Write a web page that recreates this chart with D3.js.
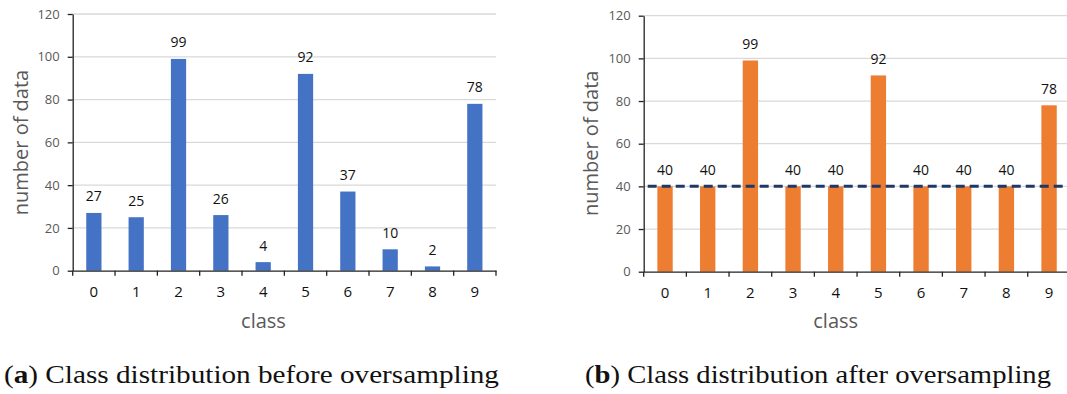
<!DOCTYPE html>
<html>
<head>
<meta charset="utf-8">
<script src="https://cdn.jsdelivr.net/npm/d3@7"></script>
<style>
  body { margin: 0; background: #fff; }
  svg { display: block; }
  .tick text { font-family: "Open Sans", sans-serif; }
</style>
</head>
<body>
<div id="chart"></div>
<script>
// data
const classes = ["0", "1", "2", "3", "4", "5", "6", "7", "8", "9"];
const countsBefore = [27, 25, 99, 26, 4, 92, 37, 10, 2, 78];
const countsAfter = [40, 40, 99, 40, 40, 92, 40, 40, 40, 78];
const yTicks = [0, 20, 40, 60, 80, 100, 120];
const threshold = 40;
const captionA = ["a", ") Class distribution before oversampling"];
const captionB = ["b", ") Class distribution after oversampling"];

const W = 1067, H = 394;

const svg = d3.select("#chart").append("svg")
    .attr("width", W)
    .attr("height", H);

// one panel = one bar chart
function drawPanel(cfg) {
    const g = svg.append("g");

    const x = d3.scaleBand()
        .domain(classes)
        .range([cfg.left, cfg.right])
        .padding(0);

    const y = d3.scaleLinear()
        .domain([0, 120])
        .range([cfg.bottom, cfg.top]);

    // gridlines
    g.append("g")
        .selectAll("line")
        .data(yTicks.filter(d => d > 0))
        .join("line")
        .attr("x1", cfg.left)
        .attr("x2", cfg.right)
        .attr("y1", d => y(d))
        .attr("y2", d => y(d))
        .attr("stroke", "#d9d9d9")
        .attr("stroke-width", 1.3);

    // bars
    const barW = x.bandwidth() * 0.36;
    g.append("g")
        .selectAll("rect")
        .data(cfg.values)
        .join("rect")
        .attr("x", (d, i) => x(classes[i]) + x.bandwidth() / 2 - barW / 2)
        .attr("y", d => y(d))
        .attr("width", barW)
        .attr("height", d => y(0) - y(d))
        .attr("fill", cfg.color);

    // value labels
    g.append("g")
        .selectAll("text")
        .data(cfg.values)
        .join("text")
        .attr("x", (d, i) => x(classes[i]) + x.bandwidth() / 2)
        .attr("y", d => y(d) - 11.5)
        .attr("text-anchor", "middle")
        .attr("font-family", "Open Sans, sans-serif")
        .attr("font-size", 14)
        .attr("fill", "#111")
        .text(d => d);

    // threshold line
    if (cfg.dashed) {
        g.append("line")
            .attr("x1", cfg.left + 4)
            .attr("x2", cfg.right)
            .attr("y1", y(threshold))
            .attr("y2", y(threshold))
            .attr("stroke", "#1f3864")
            .attr("stroke-width", 3)
            .attr("stroke-dasharray", "9,5");
    }

    // y axis
    const yAxis = g.append("g")
        .attr("transform", "translate(" + cfg.left + ",0)")
        .call(d3.axisLeft(y).tickValues(yTicks).tickSize(5).tickPadding(8).tickSizeOuter(0));
    yAxis.select(".domain").attr("stroke", "#222").attr("stroke-width", 1.3);
    yAxis.selectAll(".tick line").attr("stroke", "#222").attr("stroke-width", 1.3);
    yAxis.selectAll(".tick text").attr("font-size", 13).attr("fill", "#595959");

    // x axis with ticks on category edges
    const xAxis = g.append("g")
        .attr("transform", "translate(0," + cfg.bottom + ")")
        .call(d3.axisBottom(x).tickSize(0).tickPadding(16));
    xAxis.select(".domain").attr("stroke", "#222").attr("stroke-width", 1.3);
    xAxis.selectAll(".tick text").attr("font-size", 15).attr("fill", "#111");
    xAxis.append("g")
        .selectAll("line")
        .data(d3.range(classes.length + 1))
        .join("line")
        .attr("x1", i => cfg.left + i * x.step())
        .attr("x2", i => cfg.left + i * x.step())
        .attr("y1", 0)
        .attr("y2", 5)
        .attr("stroke", "#222")
        .attr("stroke-width", 1.3);

    // axis titles
    g.append("text")
        .attr("transform", "translate(" + cfg.yTitleX + "," + cfg.yTitleY + ") rotate(-90)")
        .attr("text-anchor", "middle")
        .attr("font-family", "Open Sans, sans-serif")
        .attr("font-size", 20)
        .attr("fill", "#595959")
        .text("number of data");

    g.append("text")
        .attr("x", cfg.xTitleX)
        .attr("y", 328)
        .attr("text-anchor", "middle")
        .attr("font-family", "Open Sans, sans-serif")
        .attr("font-size", 20)
        .attr("fill", "#595959")
        .text("class");

    // caption below panel
    const cap = svg.append("text")
        .attr("x", cfg.capX)
        .attr("y", 383)
        .attr("font-family", "Liberation Serif, serif")
        .attr("font-size", 25)
        .attr("fill", "#111")
        .attr("textLength", cfg.capLen)
        .attr("lengthAdjust", "spacingAndGlyphs");
    cap.append("tspan").text("(");
    cap.append("tspan").attr("font-weight", "bold").text(cfg.caption[0]);
    cap.append("tspan").text(cfg.caption[1]);
}

drawPanel({
    values: countsBefore, color: "#4472c4", dashed: false,
    left: 72.7, right: 496, top: 14, bottom: 270.7,
    yTitleX: 27.5, yTitleY: 142.5, xTitleX: 263.5,
    caption: captionA, capX: 4, capLen: 495
});

drawPanel({
    values: countsAfter, color: "#ed7d31", dashed: true,
    left: 643.7, right: 1070.4, top: 15.7, bottom: 271.7,
    yTitleX: 598, yTitleY: 143.3, xTitleX: 835.7,
    caption: captionB, capX: 585, capLen: 466
});
</script>
</body>
</html>
